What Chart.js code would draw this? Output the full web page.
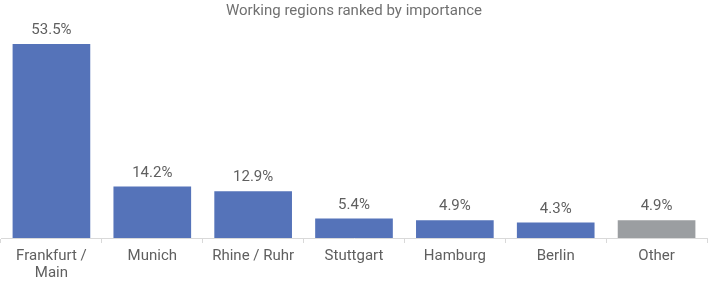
<!DOCTYPE html>
<html>
<head>
<meta charset="utf-8">
<script src="https://cdn.jsdelivr.net/npm/chart.js@4"></script>
<style>
  html, body { margin: 0; padding: 0; background: #fff; }
  #wrap { width: 710px; height: 286px; }
</style>
</head>
<body>
<div id="wrap"><canvas id="myChart" width="710" height="286"></canvas></div>
<script>
// --- data ---
const regions = [["Frankfurt /", "Main"], "Munich", "Rhine / Ruhr", "Stuttgart", "Hamburg", "Berlin", "Other"];
const shares = [53.5, 14.2, 12.9, 5.4, 4.9, 4.3, 4.9];
const shareLabels = ["53.5%", "14.2%", "12.9%", "5.4%", "4.9%", "4.3%", "4.9%"];
const barColors = ["#5573b9", "#5573b9", "#5573b9", "#5573b9", "#5573b9", "#5573b9", "#9b9ea1"];

// draws the value above each bar
const valueLabels = {
  id: "valueLabels",
  afterDatasetsDraw(chart) {
    const ctx = chart.ctx;
    const meta = chart.getDatasetMeta(0);
    ctx.save();
    ctx.font = "15px Roboto";
    ctx.fillStyle = "#5f5f5f";
    ctx.textAlign = "center";
    ctx.textBaseline = "bottom";
    meta.data.forEach((bar, i) => {
      ctx.fillText(shareLabels[i], bar.x, bar.y - 6);
    });
    ctx.restore();
  },
};

const ctx = document.getElementById("myChart").getContext("2d");
const myChart = new Chart(ctx, {
  type: "bar",
  data: {
    labels: regions,
    datasets: [
      {
        data: shares,
        backgroundColor: barColors,
        borderColor: barColors,
        borderWidth: 0,
        barPercentage: 0.77,
        categoryPercentage: 1,
      },
    ],
  },
  options: {
    responsive: false,
    animation: false,
    layout: { padding: { left: 1, right: 3, top: 0, bottom: 0 } },
    plugins: {
      legend: { display: false },
      tooltip: { enabled: false },
      title: {
        display: true,
        text: "Working regions ranked by importance",
        color: "#707070",
        font: { family: "Roboto", size: 15, weight: "normal" },
        padding: { top: 2, bottom: 4 },
      },
    },
    scales: {
      x: {
        grid: {
          offset: true,
          drawOnChartArea: false,
          drawTicks: true,
          tickLength: 5,
          color: "#d9d9d9",
        },
        border: { display: true, color: "#d9d9d9", width: 1 },
        ticks: {
          color: "#5f5f5f",
          font: { family: "Roboto", size: 15, lineHeight: 1.1 },
          padding: 5,
          maxRotation: 0,
          autoSkip: false,
        },
      },
      y: {
        display: false,
        min: 0,
        max: 59,
      },
    },
  },
  plugins: [valueLabels],
});
</script>
</body>
</html>
